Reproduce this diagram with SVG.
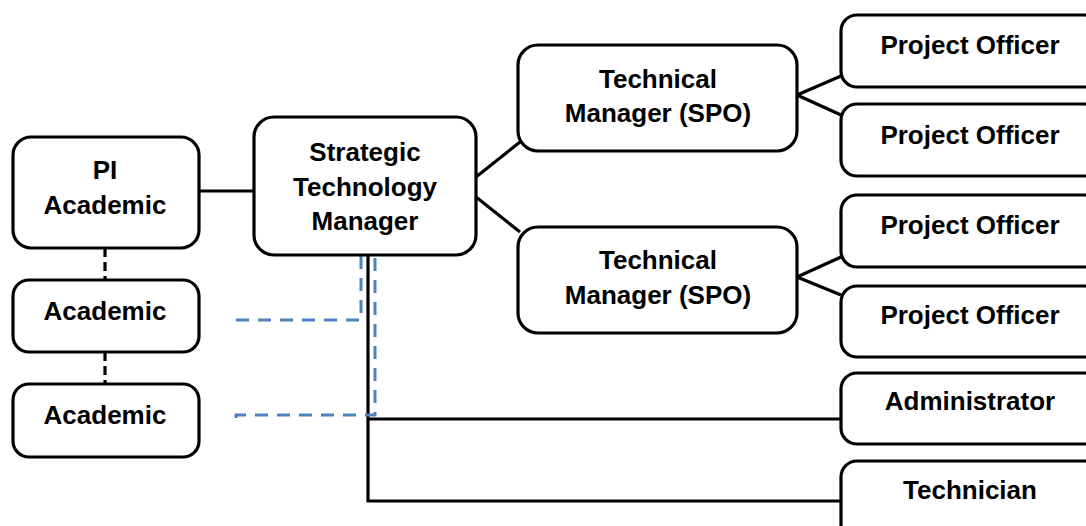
<svg xmlns="http://www.w3.org/2000/svg" width="1086" height="526" viewBox="0 0 1086 526">
<style>
.box{fill:#fff;stroke:#000;stroke-width:3.2}
.t{font-family:"Liberation Sans",Arial,sans-serif;font-weight:bold;font-size:26px;text-anchor:middle;fill:#000}
.ln{stroke:#000;stroke-width:3.2;fill:none}
.dl{stroke:#000;stroke-width:3.2;fill:none;stroke-dasharray:9 5}
.bl{stroke:#4f81bd;stroke-width:3;fill:none;stroke-dasharray:13 9}
</style>
<rect width="1086" height="526" fill="#fff"/>
<g id="connectors">
<line class="ln" x1="199" y1="191" x2="254" y2="191"/>
<line class="dl" x1="105" y1="248" x2="105" y2="279"/>
<line class="dl" x1="105" y1="352" x2="105" y2="383"/>
<polyline class="ln" points="368,255 368,501 841,501"/>
<line class="ln" x1="368" y1="419" x2="841" y2="419"/>
<polyline class="bl" points="236,320 361,320 361,255"/>
<polyline class="bl" points="236,418 236,415 375,415 375,255"/>
<line class="ln" x1="476" y1="177" x2="520" y2="142"/>
<line class="ln" x1="476" y1="197" x2="520" y2="232"/>
<line class="ln" x1="797" y1="95" x2="841" y2="76"/>
<line class="ln" x1="797" y1="95" x2="841" y2="115"/>
<line class="ln" x1="797" y1="277" x2="841" y2="257"/>
<line class="ln" x1="797" y1="277" x2="841" y2="295"/>
</g>
<g id="pi"><rect class="box" x="13" y="137" width="186" height="111" rx="18"/><text class="t" x="105" y="179">PI</text><text class="t" x="105" y="214">Academic</text></g>
<g id="academic1"><rect class="box" x="13" y="280" width="186" height="72" rx="16"/><text class="t" x="105" y="320">Academic</text></g>
<g id="academic2"><rect class="box" x="13" y="384" width="186" height="73" rx="16"/><text class="t" x="105" y="424">Academic</text></g>
<g id="stm"><rect class="box" x="254" y="117" width="222" height="138" rx="20"/><text class="t" x="365" y="161">Strategic</text><text class="t" x="365" y="196">Technology</text><text class="t" x="365" y="230">Manager</text></g>
<g id="tm1"><rect class="box" x="518" y="45" width="279" height="106" rx="20"/><text class="t" x="658" y="88">Technical</text><text class="t" x="658" y="122">Manager (SPO)</text></g>
<g id="tm2"><rect class="box" x="518" y="227" width="279" height="106" rx="20"/><text class="t" x="658" y="269">Technical</text><text class="t" x="658" y="304">Manager (SPO)</text></g>
<g id="po1"><rect class="box" x="841" y="15" width="260" height="72" rx="16"/><text class="t" x="970" y="54">Project Officer</text></g>
<g id="po2"><rect class="box" x="841" y="104" width="260" height="72" rx="16"/><text class="t" x="970" y="144">Project Officer</text></g>
<g id="po3"><rect class="box" x="841" y="195" width="260" height="72" rx="16"/><text class="t" x="970" y="234">Project Officer</text></g>
<g id="po4"><rect class="box" x="841" y="286" width="260" height="71" rx="16"/><text class="t" x="970" y="324">Project Officer</text></g>
<g id="admin"><rect class="box" x="841" y="373" width="260" height="71" rx="16"/><text class="t" x="970" y="410">Administrator</text></g>
<g id="tech"><rect class="box" x="841" y="461" width="260" height="90" rx="16"/><text class="t" x="970" y="499">Technician</text></g>
</svg>
